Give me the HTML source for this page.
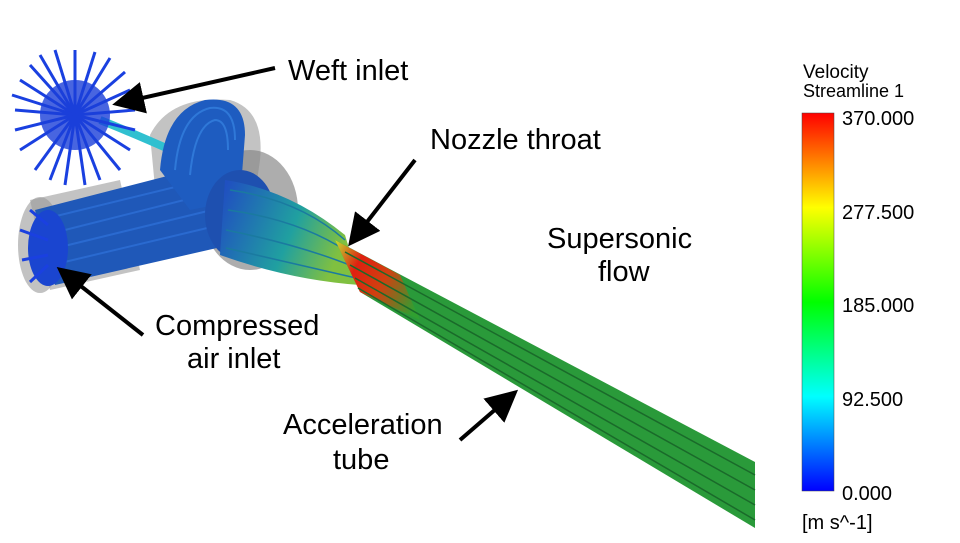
<!DOCTYPE html>
<html><head><meta charset="utf-8"><style>
html,body{margin:0;padding:0;background:#fff;}
svg{display:block;}
text{font-family:"Liberation Sans",Arial,sans-serif;fill:#000;}
</style></head><body>
<svg width="960" height="543" viewBox="0 0 960 543" xmlns="http://www.w3.org/2000/svg">
<defs>
<linearGradient id="cb" x1="0" y1="0" x2="0" y2="1">
<stop offset="0" stop-color="#ff0000"/>
<stop offset="0.25" stop-color="#ffff00"/>
<stop offset="0.5" stop-color="#00ff00"/>
<stop offset="0.75" stop-color="#00ffff"/>
<stop offset="1" stop-color="#0000ff"/>
</linearGradient>
<linearGradient id="tube" gradientUnits="userSpaceOnUse" x1="330" y1="250" x2="420" y2="300">
<stop offset="0" stop-color="#c0e030"/>
<stop offset="0.3" stop-color="#e02010"/>
<stop offset="0.6" stop-color="#d04010"/>
<stop offset="1" stop-color="#30a030"/>
</linearGradient>
<linearGradient id="fan" gradientUnits="userSpaceOnUse" x1="220" y1="200" x2="340" y2="250">
<stop offset="0" stop-color="#2050c0"/>
<stop offset="0.6" stop-color="#20a0a0"/>
<stop offset="1" stop-color="#80c040"/>
</linearGradient>
<marker id="ah" markerWidth="8" markerHeight="8" refX="6" refY="4" orient="auto" markerUnits="strokeWidth">
<path d="M0,0 L8,4 L0,8 z" fill="#000"/>
</marker>
</defs>

<ellipse cx="250" cy="210" rx="48" ry="60" fill="#777" opacity="0.6"/>
<path d="M150,135 Q170,95 230,100 Q265,110 260,160 L250,230 L160,240 Z" fill="#888" opacity="0.5"/>
<path d="M30,200 L120,180 L140,270 L50,290 Z" fill="#888" opacity="0.5"/>
<ellipse cx="40" cy="245" rx="22" ry="48" fill="#999" opacity="0.6"/>

<path d="M100,120 Q150,140 215,170" stroke="#30c0d0" stroke-width="8" fill="none"/>

<g stroke="#1a40e0" stroke-width="3">
<line x1="75" y1="115" x2="15" y2="110"/><line x1="75" y1="115" x2="20" y2="80"/>
<line x1="75" y1="115" x2="40" y2="55"/><line x1="75" y1="115" x2="75" y2="50"/>
<line x1="75" y1="115" x2="110" y2="58"/><line x1="75" y1="115" x2="130" y2="90"/>
<line x1="75" y1="115" x2="135" y2="130"/><line x1="75" y1="115" x2="120" y2="170"/>
<line x1="75" y1="115" x2="85" y2="185"/><line x1="75" y1="115" x2="50" y2="180"/>
<line x1="75" y1="115" x2="20" y2="150"/><line x1="75" y1="115" x2="15" y2="130"/>
<line x1="75" y1="115" x2="30" y2="65"/><line x1="75" y1="115" x2="95" y2="52"/>
<line x1="75" y1="115" x2="125" y2="72"/><line x1="75" y1="115" x2="100" y2="180"/>
<line x1="75" y1="115" x2="65" y2="185"/><line x1="75" y1="115" x2="35" y2="170"/>
<line x1="75" y1="115" x2="55" y2="50"/><line x1="75" y1="115" x2="12" y2="95"/>
<line x1="75" y1="115" x2="135" y2="110"/><line x1="75" y1="115" x2="130" y2="150"/>
</g>
<circle cx="75" cy="115" r="35" fill="#1a3ed8" opacity="0.8"/>

<path d="M35,210 L210,165 L230,245 L55,285 Z" fill="#1f58b8"/>
<g stroke="#2a6ad0" stroke-width="2">
<line x1="40" y1="220" x2="212" y2="178"/><line x1="45" y1="235" x2="216" y2="192"/>
<line x1="48" y1="250" x2="220" y2="208"/><line x1="52" y1="265" x2="224" y2="224"/>
</g>
<ellipse cx="48" cy="248" rx="20" ry="38" fill="#1a45d0"/>
<g stroke="#1a40e0" stroke-width="3">
<line x1="48" y1="240" x2="20" y2="230"/><line x1="48" y1="255" x2="22" y2="260"/>
<line x1="48" y1="265" x2="30" y2="282"/><line x1="48" y1="225" x2="30" y2="210"/>
</g>

<path d="M160,170 Q165,110 205,100 Q245,95 245,135 L240,200 L190,210 Z" fill="#1e5cc0"/>
<g stroke="#2f78d8" stroke-width="2" fill="none">
<path d="M175,170 Q180,115 210,108 Q235,105 235,140"/>
<path d="M190,175 Q195,125 215,120 Q228,120 228,150"/>
</g>

<ellipse cx="240" cy="215" rx="35" ry="45" fill="#1e50b0"/>

<path d="M225,180 Q290,190 345,235 L360,285 Q290,280 220,255 Z" fill="url(#fan)"/>
<g stroke="#1a7aa0" stroke-width="1.5" fill="none">
<path d="M230,190 Q300,200 345,240"/><path d="M228,210 Q300,220 348,252"/>
<path d="M226,230 Q300,245 352,266"/><path d="M226,248 Q300,265 356,278"/>
</g>

<path d="M335,240 L755,462 L755,528 L360,292 Z" fill="#2a9a3a"/>
<path d="M335,240 L400,275 L420,320 L360,292 Z" fill="url(#tube)"/>
<g stroke="#1a6a2a" stroke-width="1.5">
<line x1="345" y1="252" x2="755" y2="475"/><line x1="350" y1="265" x2="755" y2="490"/>
<line x1="355" y1="278" x2="755" y2="505"/><line x1="358" y1="288" x2="755" y2="520"/>
</g>

<rect x="802" y="113" width="32" height="378" fill="url(#cb)"/>
<rect x="802" y="113" width="32" height="378" fill="none" stroke="#444" stroke-width="0.5"/>
<text x="803" y="78" font-size="19">Velocity</text>
<text x="803" y="97" font-size="18">Streamline 1</text>
<text x="842" y="125" font-size="20">370.000</text>
<text x="842" y="219" font-size="20">277.500</text>
<text x="842" y="312" font-size="20">185.000</text>
<text x="842" y="406" font-size="20">92.500</text>
<text x="842" y="500" font-size="20">0.000</text>
<text x="802" y="529" font-size="20">[m s^-1]</text>

<text x="288" y="80" font-size="29">Weft inlet</text>
<text x="430" y="149" font-size="29">Nozzle throat</text>
<text x="547" y="248" font-size="29">Supersonic</text>
<text x="598" y="281" font-size="29">flow</text>
<text x="155" y="335" font-size="29">Compressed</text>
<text x="187" y="368" font-size="29">air inlet</text>
<text x="283" y="434" font-size="29">Acceleration</text>
<text x="333" y="469" font-size="29">tube</text>

<g stroke="#000" stroke-width="4" fill="none">
<line x1="275" y1="68" x2="120" y2="103" marker-end="url(#ah)"/>
<line x1="415" y1="160" x2="353" y2="240" marker-end="url(#ah)"/>
<line x1="143" y1="335" x2="63" y2="272" marker-end="url(#ah)"/>
<line x1="460" y1="440" x2="512" y2="395" marker-end="url(#ah)"/>
</g>
</svg>
</body></html>
